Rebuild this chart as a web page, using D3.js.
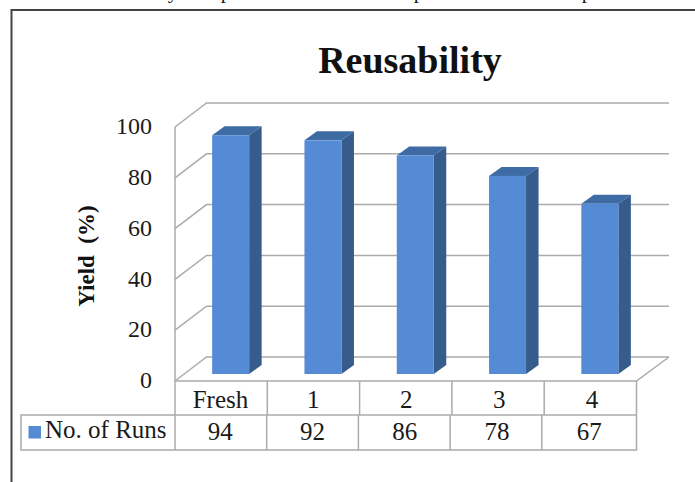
<!DOCTYPE html>
<html>
<head>
<meta charset="utf-8">
<style>
  html, body { margin: 0; padding: 0; background: #fff; }
  svg { display: block; }
  text { font-family: "Liberation Serif", serif; fill: #1a1a1a; }
</style>
<script src="https://cdn.jsdelivr.net/npm/d3@7/dist/d3.min.js"></script>
</head>
<body>
<svg id="chart" width="695" height="482"></svg>
<script>
const categories = ["Fresh", "1", "2", "3", "4"];
const yields = [94, 92, 86, 78, 67];
const yTicks = [0, 20, 40, 60, 80, 100];
const seriesName = "No. of Runs";
const chartTitle = "Reusability";
const yTitle = "Yield  (%)";

const svg = d3.select("#chart");
const GRID = "#ababab", FRONT = "#558bd4", SIDE = "#355c8b", TOP = "#3f6ba4";

// Plot box: front-left floor corner, plus the oblique offset of the back wall
const left = 175, right = 636.5, floorY = 381, topY = 127;
const depth = { x: 31.5, y: -24 };
const barDepth = { x: 12.5, y: -9 };
const barShift = { x: 9.5, y: -7 };
const rowY = [381, 415, 450];
const keyLeft = 21;

const x = d3.scaleBand().domain(categories).range([left, right]);
const xCategoryLabel = d3.scaleBand().domain(categories).range([174, 638.5]);
const xValueDivider = d3.scaleBand().domain(categories).range([left, 633.5]);
const y = d3.scaleLinear().domain([0, 100]).range([floorY, topY]);
const barW = 37;

// Outer frame, open on the side and bottom edges
svg.append("path")
  .attr("d", d3.line()([[11.5, 482], [11.5, 10], [695, 10]]))
  .attr("fill", "none").attr("stroke", "#444").attr("stroke-width", 2);

// Descenders of the line of text cut off above the frame
svg.append("g").selectAll("text")
  .data([["y", 173], ["p", 226], ["p", 419], ["p", 587]])
  .join("text")
  .attr("x", d => d[1])
  .attr("y", -2.5)
  .attr("text-anchor", "middle")
  .attr("font-size", 21)
  .text(d => d[0]);

// Back wall gridlines and side wall diagonals
const gridG = svg.append("g")
  .attr("fill", "none").attr("stroke", GRID).attr("stroke-width", 1.5);
yTicks.forEach(t => {
  gridG.append("path").attr("d", d3.line()([
    [left, y(t)],
    [left + depth.x, y(t) + depth.y],
    [right + depth.x + 1, y(t) + depth.y]
  ]));
});
// Floor front edge with its right-hand diagonal
gridG.append("path").attr("d", d3.line()([
  [left, y(0)], [right, y(0)], [right + depth.x + 1, y(0) + depth.y]
]));
// Left wall vertical
gridG.append("path").attr("d", d3.line()([[left, y(100)], [left, rowY[2]]]));

// 3D columns
const bars = svg.append("g").selectAll("g")
  .data(categories.map((c, i) => ({ c, v: yields[i] })))
  .join("g");
const bx = d => x(d.c) + x.bandwidth() / 2 - barW / 2 + barShift.x;
const by = d => y(d.v) + barShift.y;
const by0 = y(0) + barShift.y;

bars.append("path").attr("fill", SIDE).attr("d", d => d3.line()([
  [bx(d) + barW, by(d)],
  [bx(d) + barW + barDepth.x, by(d) + barDepth.y],
  [bx(d) + barW + barDepth.x, by0 + barDepth.y],
  [bx(d) + barW, by0]
]));
bars.append("path").attr("fill", TOP).attr("d", d => d3.line()([
  [bx(d), by(d)],
  [bx(d) + barDepth.x, by(d) + barDepth.y],
  [bx(d) + barW + barDepth.x, by(d) + barDepth.y],
  [bx(d) + barW, by(d)]
]));
bars.append("rect").attr("fill", FRONT)
  .attr("x", bx).attr("y", by)
  .attr("width", barW).attr("height", d => by0 - by(d));

// Value axis labels
const axis = svg.append("g")
  .attr("transform", "translate(152,-1)")
  .call(d3.axisLeft(y).tickValues(yTicks).tickSize(0).tickPadding(0).tickFormat(d3.format("d")));
axis.select(".domain").remove();
axis.selectAll("text")
  .attr("font-family", "Liberation Serif")
  .attr("font-size", 24)
  .style("fill", "#1a1a1a");

// Data table beneath the plot
const table = svg.append("g")
  .attr("fill", "none").attr("stroke", GRID).attr("stroke-width", 1.5);
table.append("path").attr("d", d3.line()([[left, rowY[1]], [keyLeft, rowY[1]], [keyLeft, rowY[2]], [right, rowY[2]], [right, rowY[0]]]));
table.append("path").attr("d", d3.line()([[left, rowY[1]], [right, rowY[1]]]));
categories.slice(1).forEach(c => {
  table.append("path").attr("d", d3.line()([[x(c), rowY[0]], [x(c), rowY[1]]]));
  table.append("path").attr("d", d3.line()([[xValueDivider(c), rowY[1]], [xValueDivider(c), rowY[2]]]));
});

svg.append("g").selectAll("text")
  .data(categories)
  .join("text")
  .attr("x", d => xCategoryLabel(d) + xCategoryLabel.bandwidth() / 2)
  .attr("y", 408)
  .attr("text-anchor", "middle")
  .attr("font-size", 25)
  .text(d => d);

svg.append("g").selectAll("text")
  .data(categories.map((c, i) => ({ c, v: yields[i] })))
  .join("text")
  .attr("x", d => x(d.c) + x.bandwidth() / 2 - 1)
  .attr("y", 440)
  .attr("text-anchor", "middle")
  .attr("font-size", 25)
  .text(d => d.v);

// Legend key in the table's first column
svg.append("rect")
  .attr("x", 28.5).attr("y", 426).attr("width", 12.5).attr("height", 12.5)
  .attr("fill", FRONT);
svg.append("text")
  .attr("x", 45).attr("y", 438)
  .attr("font-size", 25)
  .text(seriesName);

// Titles
svg.append("text")
  .attr("x", 410).attr("y", 73)
  .attr("text-anchor", "middle")
  .attr("font-size", 38).attr("font-weight", "bold")
  .style("fill", "#111")
  .text(chartTitle);

svg.append("text")
  .attr("transform", "translate(94,256) rotate(-90)")
  .attr("text-anchor", "middle")
  .attr("font-size", 23).attr("font-weight", "bold")
  .style("white-space", "pre")
  .style("fill", "#111")
  .text(yTitle);
</script>
</body>
</html>
